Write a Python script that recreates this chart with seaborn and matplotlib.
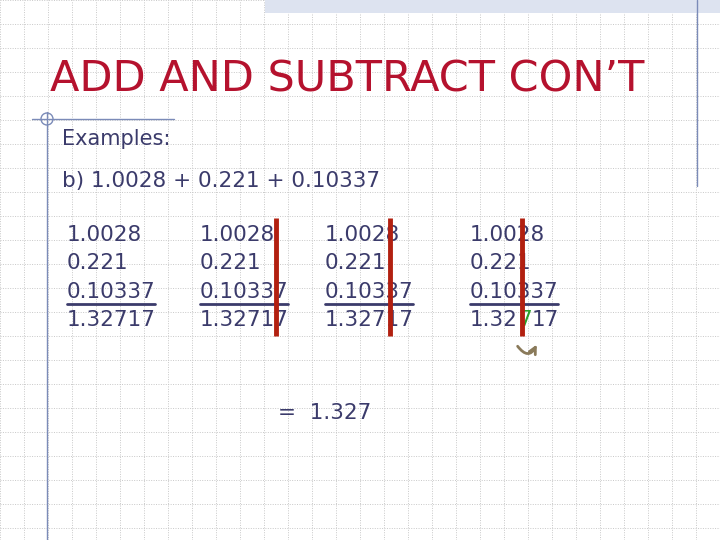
import matplotlib.pyplot as plt
import seaborn as sns
from matplotlib.patches import Rectangle, Circle

sns.set_theme(style="white")
plt.rcParams['font.family'] = ['DejaVu Sans']

# slide content
title = "ADD AND SUBTRACT CON\u2019T"
intro = "Examples:"
problem = "b) 1.0028 + 0.221 + 0.10337"
numbers = ["1.0028", "0.221", "0.10337", "1.32717"]
last_parts = ["1.32", "7", "17"]   # last column sum, carried digit in green
column_x = [67, 200, 325, 470]
cut_x = [None, 276, 390, 522]
answer = "=  1.327"

ink = "#3b3b6b"
fig = plt.figure(figsize=(7.2, 5.4), dpi=100)
ax = fig.add_axes([0, 0, 1, 1])
ax.set_xlim(0, 720)
ax.set_ylim(540, 0)
ax.axis("off")

# dotted background grid
for g in range(0, 721, 24):
    ax.axvline(g, color="#c8c8c8", lw=0.7, ls=(0, (1, 1.5)), zorder=0)
for g in range(0, 541, 24):
    ax.axhline(g, color="#c8c8c8", lw=0.7, ls=(0, (1, 1.5)), zorder=0)

# decorations
ax.add_patch(Rectangle((265, 0), 455, 13, facecolor="#dde3f0", edgecolor="none",
                       hatch="....", zorder=1))
ax.plot([697, 697], [0, 186], color="#7b8bb8", lw=1)
ax.plot([32, 174], [119, 119], color="#7b8bb8", lw=1)
ax.plot([47, 47], [112, 540], color="#7b8bb8", lw=1)
ax.add_patch(Circle((47, 119), 6, fill=False, edgecolor="#7b8bb8", lw=1))

ax.text(50, 80, title, color="#b5122e", fontsize=31, va="center", ha="left")
ax.text(62, 139, intro, color=ink, fontsize=15, va="center")
ax.text(62, 181, problem, color=ink, fontsize=15.5, va="center")

row_y = [235, 263, 292, 320]
last = len(column_x) - 1
for k, (cx, cut) in enumerate(zip(column_x, cut_x)):
    for i, (num, y) in enumerate(zip(numbers, row_y)):
        if k == last and i == len(numbers) - 1:
            continue
        ax.text(cx, y, num, color=ink, fontsize=15.5, va="center", ha="left")
    ax.plot([cx, cx + 88], [304, 304], color=ink, lw=2)
    if cut is not None:
        ax.plot([cut, cut], [218, 336], color="#b22010", lw=3.5,
                solid_capstyle="butt", zorder=5)

cx = column_x[last]
ax.text(cx, row_y[-1], last_parts[0], color=ink, fontsize=15.5, va="center", ha="left")
ax.text(cx + 48, row_y[-1], last_parts[1], color="#2aa02a", fontsize=15.5, va="center", ha="left")
ax.text(cx + 62, row_y[-1], last_parts[2], color=ink, fontsize=15.5, va="center", ha="left")

ax.annotate("", xy=(538, 342), xytext=(516, 344),
            arrowprops=dict(arrowstyle="->", connectionstyle="arc3,rad=0.9",
                            color="#8a7a5a", lw=2))
ax.text(278, 413, answer, color=ink, fontsize=15.5, va="center")

fig.savefig("out.png", dpi=100)
